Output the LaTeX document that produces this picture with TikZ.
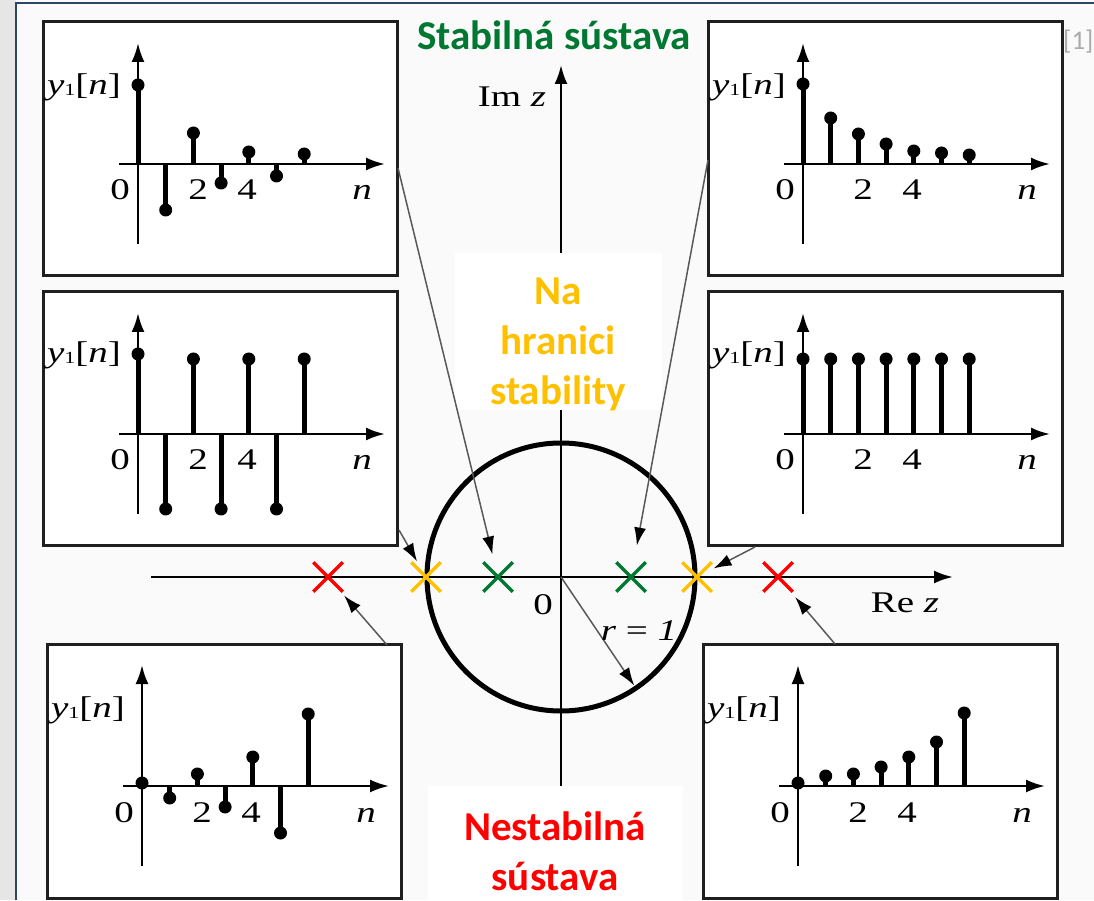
\documentclass[tikz,border=0pt]{standalone}
\usepackage{fontspec}
\setmainfont{Liberation Serif}
\newfontfamily\calibfont{Carlito}
\usepackage{tikz}
\usetikzlibrary{arrows.meta,positioning,calc,shapes.misc}
\definecolor{stabgreen}{RGB}{0,120,50}
\definecolor{edgeamber}{RGB}{255,192,0}
\definecolor{unstred}{RGB}{255,0,0}
\definecolor{framedark}{RGB}{45,70,100}
\definecolor{stripgray}{RGB}{230,230,230}
\definecolor{slidebg}{RGB}{250,250,250}
\definecolor{refgray}{RGB}{170,170,170}
\newcommand{\yone}{\textit{y}\raisebox{-1pt}{\fontsize{17}{17}\selectfont 1}[\textit{n}]}

\begin{document}
\begin{tikzpicture}[x=1pt,y=1pt,>={Latex[length=19pt,width=13pt]},
  panelbox/.style={draw=black!88,line width=3pt,fill=white},
  axisline/.style={line width=2.5pt,->},
  stemline/.style={line width=5pt},
  plotlabel/.style={font=\fontsize{30}{30}\selectfont,xscale=1.3,inner sep=0pt,anchor=base},
  bigword/.style={font=\calibfont\bfseries\fontsize{41}{50}\selectfont,align=center,inner sep=0pt},
  pole/.style={cross out,draw,line width=3.5pt,minimum size=26pt,inner sep=0pt},
  pointer/.style={draw=black!65,line width=1.5pt,-{Latex[length=18pt,width=12pt,color=black]}}]
 \useasboundingbox (0,0) rectangle (1094,900);
 % --- slide background ---
 \fill[slidebg] (0,0) rectangle (1094,900);
 \fill[stripgray] (0,0) rectangle (16,900);
 \draw[framedark,line width=2.5pt] (16,0) -- (16,897) -- (1094,897);
 \node[font=\calibfont\fontsize{27}{27}\selectfont,text=refgray,anchor=base west,inner sep=0pt] (cite) at (1063,850) {[1]};

 % --- z-plane ---
 \coordinate (O) at (561,323);
 \coordinate (reL) at (151,323); \coordinate (reR) at (953,323);
 \coordinate (imB) at (561,0);   \coordinate (imT) at (561,835);
 \draw[axisline] (reL) -- (reR);
 \draw[axisline] (imB) -- (imT);
 \draw[line width=5pt] (O) circle (134);
 \coordinate (rim) at ($(O)+(-56:131)$);
 \draw[pointer] (O) -- (rim);
 \node[plotlabel] (imlab) at (512,793) {Im \textit{z}};
 \node[plotlabel] (relab) at (905,288) {Re \textit{z}};
 \node[plotlabel] (olab) at (543,286) {0};
 \node[plotlabel] (rlab) at (639,260) {\textit{r} = \textit{1}};

 % --- poles ---
 \node[pole,draw=unstred]  (rL) at (328,323) {};
 \node[pole,draw=edgeamber] (yL) at (426,323) {};
 \node[pole,draw=stabgreen] (gL) at (498,323) {};
 \node[pole,draw=stabgreen] (gR) at (631,323) {};
 \node[pole,draw=edgeamber] (yR) at (697,323) {};
 \node[pole,draw=unstred]  (rR) at (778,323) {};

 % --- captions ---
 \node[bigword,text=stabgreen,anchor=base] (stab) at (554,850) {Stabilná sústava};
 \fill[white] (455,490) rectangle (662,647);
 \node[bigword,text=edgeamber,anchor=north] (edge) at (558,622) {Na\\hranici\\stability};
 \fill[white] (428,0) rectangle (683,114);
 \node[bigword,text=unstred,anchor=north] (unst) at (555,88) {Nestabilná\\sústava};

 % --- panel A: decaying, alternating ---
 \begin{scope}[shift={(138,736)}]
   \draw[panelbox] (-95,-112) rectangle (259,142);
   \draw[axisline] (-19,0) -- (247,0);
   \draw[axisline] (0,-80) -- (0,121);
   \foreach \v [count=\k from 0] in {79,-46,31,-19,12,-12,10}
     {\draw[stemline] (27.7*\k,0) -- (27.7*\k,\v); \fill (27.7*\k,\v) circle (6.5);}
   \node[plotlabel] (yA) at (-54,69) {\yone};
   \node[plotlabel] (zA) at (-18,-36) {0};
   \node[plotlabel] (twoA) at (60,-36) {2};
   \node[plotlabel] (fourA) at (109,-36) {4};
   \node[plotlabel] (nA) at (224,-36) {\textit{n}};
   \coordinate (outA) at (260,-4);
 \end{scope}
 % --- panel B: decaying ---
 \begin{scope}[shift={(803,736)}]
   \draw[panelbox] (-95,-112) rectangle (259,142);
   \draw[axisline] (-19,0) -- (247,0);
   \draw[axisline] (0,-80) -- (0,121);
   \foreach \v [count=\k from 0] in {80,46,30,20,13,11,9}
     {\draw[stemline] (27.7*\k,0) -- (27.7*\k,\v); \fill (27.7*\k,\v) circle (6.5);}
   \node[plotlabel] (yB) at (-54,69) {\yone};
   \node[plotlabel] (zB) at (-18,-36) {0};
   \node[plotlabel] (twoB) at (60,-36) {2};
   \node[plotlabel] (fourB) at (109,-36) {4};
   \node[plotlabel] (nB) at (224,-36) {\textit{n}};
   \coordinate (outB) at (-95,4);
 \end{scope}
 % --- panel C: alternating, constant ---
 \begin{scope}[shift={(138,466)}]
   \draw[panelbox] (-95,-112) rectangle (259,142);
   \draw[axisline] (-19,0) -- (247,0);
   \draw[axisline] (0,-80) -- (0,121);
   \foreach \v [count=\k from 0] in {80,-75,75,-75,75,-75,75}
     {\draw[stemline] (27.7*\k,0) -- (27.7*\k,\v); \fill (27.7*\k,\v) circle (6.5);}
   \node[plotlabel] (yC) at (-54,71) {\yone};
   \node[plotlabel] (zC) at (-18,-36) {0};
   \node[plotlabel] (twoC) at (60,-36) {2};
   \node[plotlabel] (fourC) at (109,-36) {4};
   \node[plotlabel] (nC) at (224,-36) {\textit{n}};
   \coordinate (outC) at (261,-96);
 \end{scope}
 % --- panel D: constant ---
 \begin{scope}[shift={(803,466)}]
   \draw[panelbox] (-95,-112) rectangle (259,142);
   \draw[axisline] (-19,0) -- (247,0);
   \draw[axisline] (0,-80) -- (0,121);
   \foreach \v [count=\k from 0] in {75,75,75,75,75,75,75}
     {\draw[stemline] (27.7*\k,0) -- (27.7*\k,\v); \fill (27.7*\k,\v) circle (6.5);}
   \node[plotlabel] (yD) at (-54,71) {\yone};
   \node[plotlabel] (zD) at (-18,-36) {0};
   \node[plotlabel] (twoD) at (60,-36) {2};
   \node[plotlabel] (fourD) at (109,-36) {4};
   \node[plotlabel] (nD) at (224,-36) {\textit{n}};
   \coordinate (outD) at (-48,-113);
 \end{scope}
 % --- panel E: growing, alternating ---
 \begin{scope}[shift={(142,114)}]
   \draw[panelbox] (-95,-112) rectangle (259,142);
   \draw[axisline] (-19,0) -- (247,0);
   \draw[axisline] (0,-80) -- (0,121);
   \foreach \v [count=\k from 0] in {3,-12,12,-21,29,-47,72}
     {\draw[stemline] (27.7*\k,0) -- (27.7*\k,\v); \fill (27.7*\k,\v) circle (6.5);}
   \node[plotlabel] (yE) at (-54,69) {\yone};
   \node[plotlabel] (zE) at (-18,-36) {0};
   \node[plotlabel] (twoE) at (60,-36) {2};
   \node[plotlabel] (fourE) at (109,-36) {4};
   \node[plotlabel] (nE) at (224,-36) {\textit{n}};
   \coordinate (outE) at (245,141);
 \end{scope}
 % --- panel F: growing ---
 \begin{scope}[shift={(798,114)}]
   \draw[panelbox] (-95,-112) rectangle (259,142);
   \draw[axisline] (-19,0) -- (247,0);
   \draw[axisline] (0,-80) -- (0,121);
   \foreach \v [count=\k from 0] in {3,10,12,19,29,44,73}
     {\draw[stemline] (27.7*\k,0) -- (27.7*\k,\v); \fill (27.7*\k,\v) circle (6.5);}
   \node[plotlabel] (yF) at (-54,69) {\yone};
   \node[plotlabel] (zF) at (-18,-36) {0};
   \node[plotlabel] (twoF) at (60,-36) {2};
   \node[plotlabel] (fourF) at (109,-36) {4};
   \node[plotlabel] (nF) at (224,-36) {\textit{n}};
   \coordinate (outF) at (37,142);
 \end{scope}

 % --- pointers from panels to poles ---
 \draw[pointer,shorten >=8pt] (outA) -- (gL);
 \draw[pointer,shorten >=17pt] (outB) -- (gR);
 \draw[pointer,shorten >=1pt] (outC) -- (yL);
 \draw[pointer,shorten >=2pt] (outD) -- (yR);
 \draw[pointer,shorten >=5pt] (outE) -- (rL);
 \draw[pointer,shorten >=7pt] (outF) -- (rR);
\end{tikzpicture}
\end{document}
